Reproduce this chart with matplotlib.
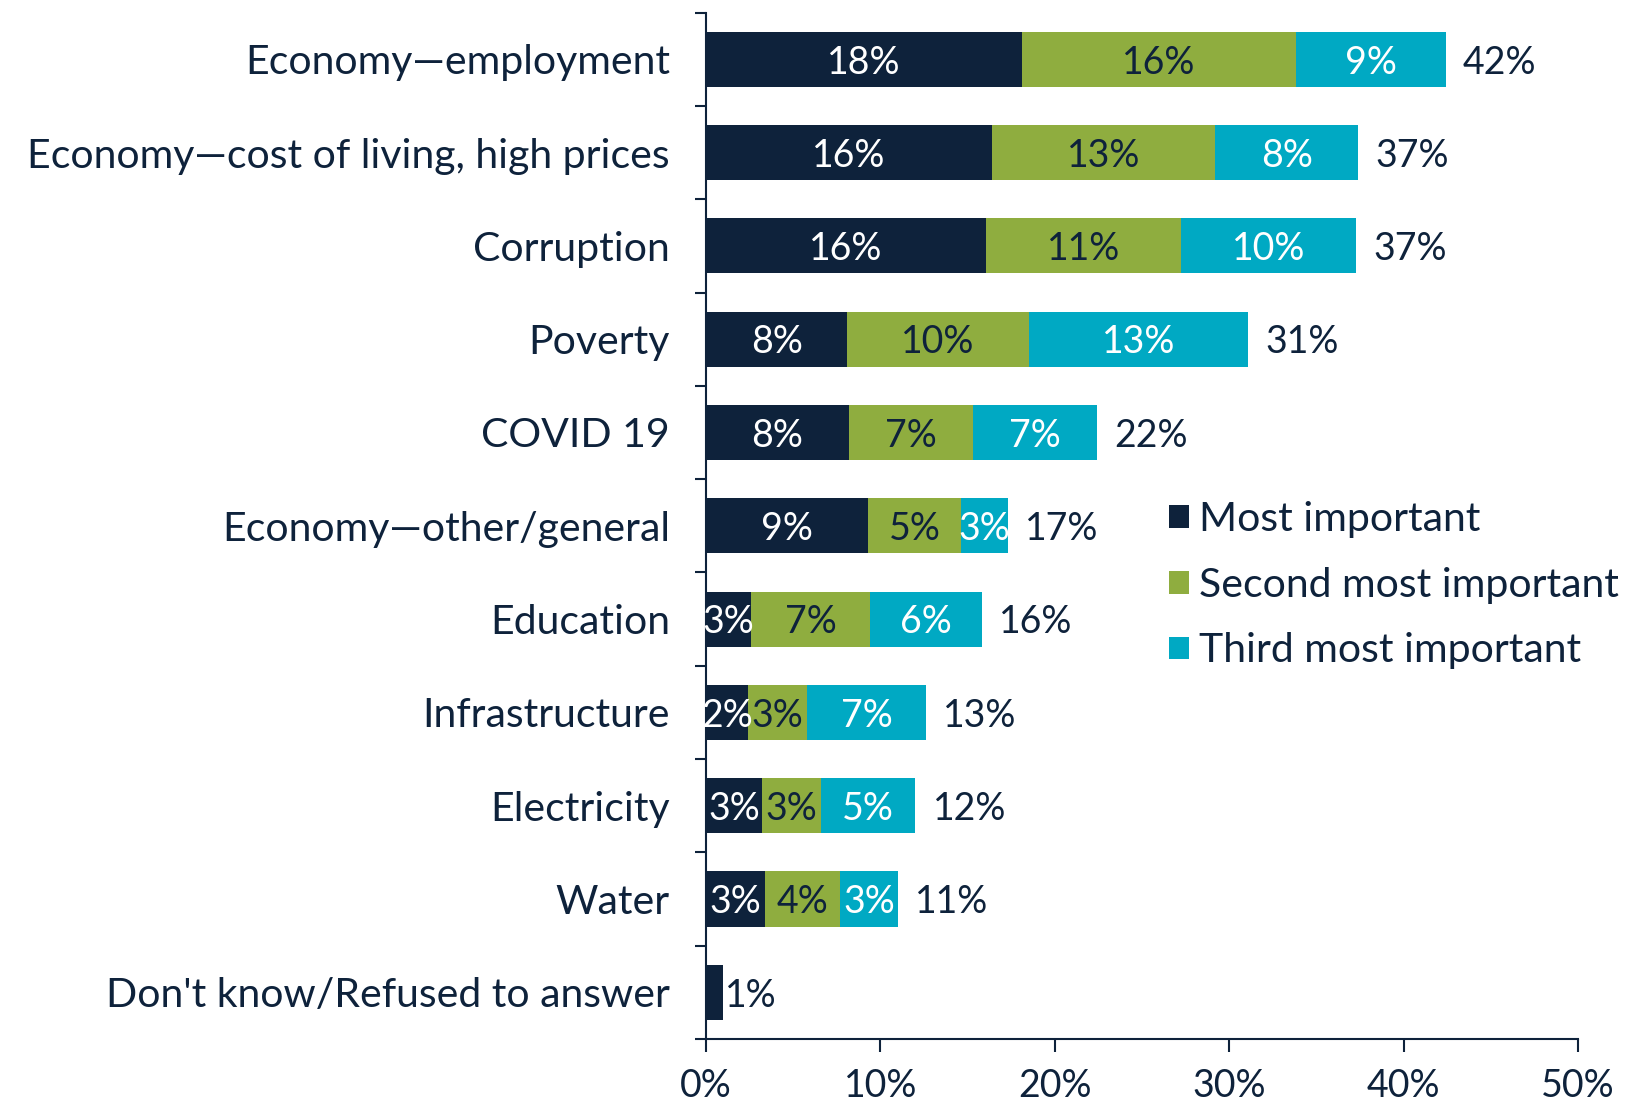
import matplotlib
matplotlib.use("Agg")
import matplotlib.pyplot as plt
import numpy as np

categories = [
    "Economy\u2014employment",
    "Economy\u2014cost of living, high prices",
    "Corruption",
    "Poverty",
    "COVID 19",
    "Economy\u2014other/general",
    "Education",
    "Infrastructure",
    "Electricity",
    "Water",
    "Don't know/Refused to answer",
]
most = [18.1, 16.4, 16.05, 8.1, 8.2, 9.3, 2.6, 2.4, 3.2, 3.4, 1.0]
second = [15.7, 12.8, 11.2, 10.4, 7.1, 5.3, 6.8, 3.4, 3.4, 4.3, 0.0]
third = [8.6, 8.2, 10.0, 12.6, 7.1, 2.7, 6.4, 6.8, 5.4, 3.3, 0.0]
series_names = ["Most important", "Second most important", "Third most important"]
colors = ["#0E223B", "#8FAD3F", "#00A9C3"]
text_colors = ["white", "#0E223B", "white"]
xticks = [0, 10, 20, 30, 40, 50]

plt.rcParams['font.family'] = ['Lato', 'DejaVu Sans']
NAVY = "#0E223B"

fig = plt.figure(figsize=(16.32, 11.06), dpi=100)
ax = fig.add_axes([0.4326, 0.0606, 0.5344, 0.928])

y = np.arange(len(categories))
data = [most, second, third]
left = np.zeros(len(categories))
handles = []
for vals, col, tc, name in zip(data, colors, text_colors, series_names):
    vals = np.array(vals)
    bars = ax.barh(y, vals, left=left, height=0.59, color=col, label=name)
    handles.append(bars)
    for yi, v, l in zip(y, vals, left):
        if v > 0 and yi != len(categories) - 1:
            ax.text(l + v / 2, yi + 0.035, f"{round(v):d}%", ha="center", va="center",
                    color=tc, fontsize=27)
    left = left + vals

totals = left
for yi, t in zip(y, totals):
    off = 1.0 if yi != len(categories) - 1 else 0.1
    ax.text(t + off, yi + 0.035, f"{round(t):d}%", ha="left", va="center",
            color=NAVY, fontsize=27)

ax.set_ylim(len(categories) - 0.5, -0.5)
ax.set_xlim(0, 50)
ax.set_yticks(y)
ax.set_yticklabels(categories, fontsize=29.5, color=NAVY)
ax.set_yticks(np.arange(-0.5, len(categories), 1), minor=True)
ax.tick_params(axis="y", which="major", length=0, pad=26)
ax.tick_params(axis="y", which="minor", length=8, width=1.5, color=NAVY)
ax.set_xticks(xticks)
ax.set_xticklabels([f"{v}%" for v in xticks], fontsize=27, color=NAVY)
ax.tick_params(axis="x", length=9, width=1.5, color=NAVY, pad=12)
for s in ["top", "right"]:
    ax.spines[s].set_visible(False)
for s in ["left", "bottom"]:
    ax.spines[s].set_color(NAVY)
    ax.spines[s].set_linewidth(1.5)

leg = ax.legend(handles=handles, loc="upper left", bbox_to_anchor=(0.512, 0.540),
                frameon=False, fontsize=29.5, handlelength=0.48, handleheight=0.48,
                handletextpad=0.25, labelspacing=0.70, borderaxespad=0)
for t in leg.get_texts():
    t.set_color(NAVY)

fig.savefig("out.png", dpi=100)
